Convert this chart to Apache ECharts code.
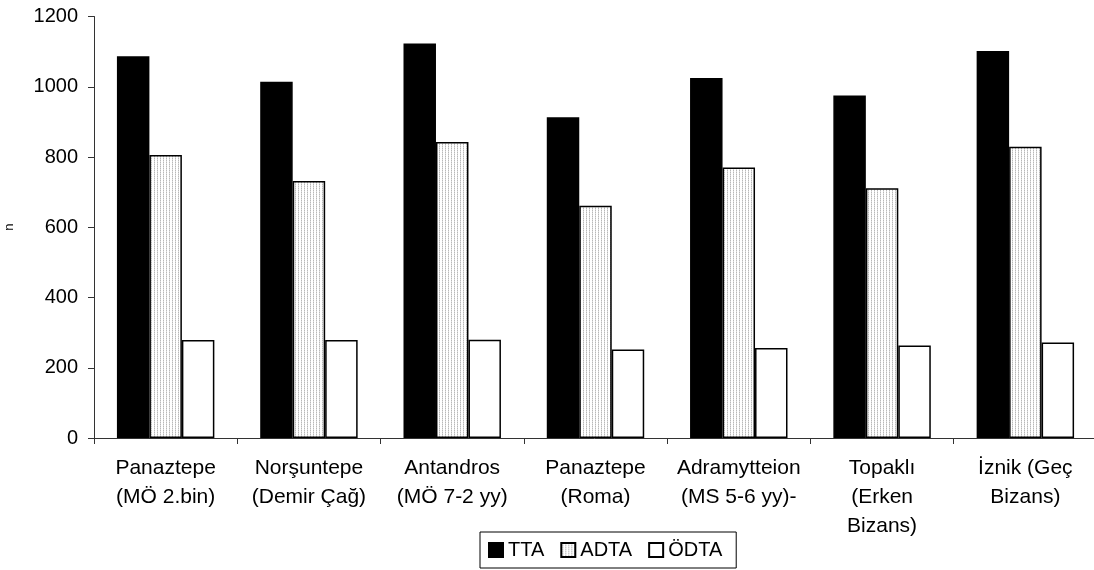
<!DOCTYPE html>
<html>
<head>
<meta charset="utf-8">
<script src="https://cdn.jsdelivr.net/npm/echarts@6/dist/echarts.min.js"></script>
<style>
html,body{margin:0;padding:0;background:#fff;}
#chart{width:1094px;height:570px;}
</style>
</head>
<body>
<div id="chart"></div>
<script>
const categories = [
  "Panaztepe\n(MÖ 2.bin)",
  "Norşuntepe\n(Demir Çağ)",
  "Antandros\n(MÖ 7-2 yy)",
  "Panaztepe\n(Roma)",
  "Adramytteion\n(MS 5-6 yy)-",
  "Topaklı\n(Erken\nBizans)",
  "İznik (Geç\nBizans)"
];
const seriesNames = ["TTA", "ADTA", "ÖDTA"];
const ttaValues = [1087, 1014, 1123, 913, 1025, 975, 1102];
const adtaValues = [806, 732, 843, 661, 770, 711, 829];
const odtaValues = [279, 279, 280, 252, 256, 263, 272];
const yTicks = [0, 200, 400, 600, 800, 1000, 1200];

// dotted light-gray pattern for ADTA
const pc = document.createElement('canvas');
pc.width = 3; pc.height = 2;
const pctx = pc.getContext('2d');
pctx.fillStyle = '#ffffff';
pctx.fillRect(0, 0, 3, 2);
pctx.fillStyle = '#b8b8b8';
pctx.fillRect(1, 0, 1, 1);
pctx.fillStyle = '#dcdcdc';
pctx.fillRect(1, 1, 1, 1);
const adtaFill = { image: pc, repeat: 'repeat' };

const FONT = '"Liberation Sans", Arial, sans-serif';
const chart = echarts.init(document.getElementById('chart'), null, { renderer: 'canvas' });

const barStyle = (fill) => ({ color: fill, borderColor: '#000', borderWidth: 1.5 });

chart.setOption({
  animation: false,
  backgroundColor: '#fff',
  textStyle: { fontFamily: FONT, color: '#000' },
  grid: { left: 94, top: 16.5, width: 1003, bottom: 132, containLabel: false, outerBoundsMode: 'none' },
  legend: {
    data: seriesNames,
    left: 480,
    top: 532,
    padding: [8, 14, 8, 8],
    borderColor: '#000',
    borderWidth: 1,
    itemWidth: 14,
    itemHeight: 14,
    itemGap: 16,
    icon: 'rect',
    textStyle: { fontFamily: FONT, fontSize: 20, lineHeight: 20, color: '#000' }
  },
  xAxis: {
    type: 'category',
    data: categories,
    boundaryGap: true,
    axisLine: { show: true, lineStyle: { color: '#333', width: 1 } },
    axisTick: { show: true, alignWithLabel: false, length: 6, inside: false, lineStyle: { color: '#333' } },
    axisLabel: {
      interval: 0,
      margin: 16,
      fontFamily: FONT,
      fontSize: 21,
      lineHeight: 29,
      color: '#000',
      align: 'center'
    }
  },
  yAxis: {
    type: 'value',
    min: 0,
    max: 1200,
    interval: 200,
    name: 'n',
    nameLocation: 'middle',
    nameGap: 78,
    nameRotate: 90,
    nameTextStyle: { fontFamily: FONT, fontSize: 13, color: '#000' },
    axisLine: { show: true, lineStyle: { color: '#333', width: 1 } },
    axisTick: { show: true, length: 6, lineStyle: { color: '#333' } },
    splitLine: { show: false },
    axisLabel: {
      margin: 16,
      fontFamily: FONT,
      fontSize: 20,
      color: '#000',
      formatter: (v) => yTicks.includes(v) ? String(v) : ''
    }
  },
  series: [
    { name: seriesNames[0], type: 'bar', data: ttaValues, barGap: '0%', barCategoryGap: '32%', itemStyle: barStyle('#000') },
    { name: seriesNames[1], type: 'bar', data: adtaValues, barGap: '0%', barCategoryGap: '32%', itemStyle: barStyle(adtaFill) },
    { name: seriesNames[2], type: 'bar', data: odtaValues, barGap: '0%', barCategoryGap: '32%', itemStyle: barStyle('#fff') }
  ]
});
</script>
</body>
</html>
